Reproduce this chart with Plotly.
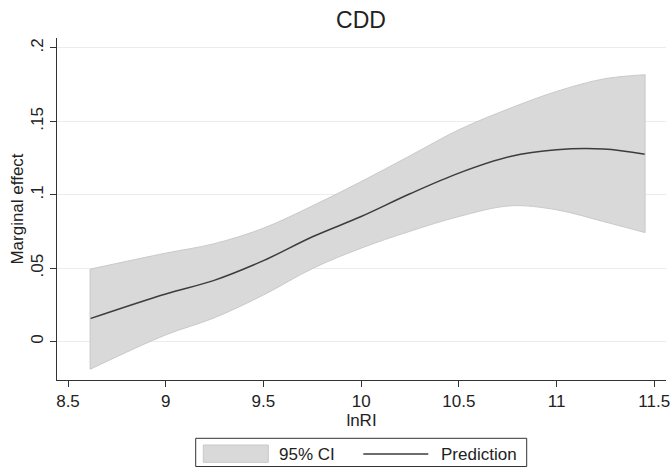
import plotly.graph_objects as go

# ---- data ----
lnRI = [8.613, 9.0, 9.244, 9.5, 9.754, 10.0, 10.25, 10.5, 10.763, 11.0, 11.24, 11.453]
upper = [0.0494, 0.0603, 0.0666, 0.0773, 0.0927, 0.109, 0.1266, 0.1443, 0.159, 0.1704, 0.1789, 0.1818]
pred = [0.0157, 0.0325, 0.0416, 0.0552, 0.0716, 0.0852, 0.1007, 0.1148, 0.1261, 0.1307, 0.1312, 0.1277]
lower = [-0.0188, 0.0046, 0.016, 0.0318, 0.05, 0.0637, 0.0752, 0.0852, 0.0925, 0.0898, 0.0818, 0.0743]

x_ticks = [8.5, 9, 9.5, 10, 10.5, 11, 11.5]
x_ticklabels = ["8.5", "9", "9.5", "10", "10.5", "11", "11.5"]
y_ticks = [0, 0.05, 0.1, 0.15, 0.2]
y_ticklabels = ["0", ".05", ".1", ".15", ".2"]

FONT = "Liberation Sans, Arial, sans-serif"
FS = 17
BAND = "#d9d9d9"
BAND_EDGE = "#c9c9c9"
LINE = "#3c3c3c"

fig = go.Figure()
fig.add_trace(go.Scatter(x=lnRI, y=upper, mode="lines", line=dict(color=BAND_EDGE, width=1, shape="spline"),
                         showlegend=False, hoverinfo="skip"))
fig.add_trace(go.Scatter(x=lnRI, y=lower, mode="lines", line=dict(color=BAND_EDGE, width=1, shape="spline"),
                         fill="tonexty", fillcolor=BAND, name="95% CI", showlegend=False))
fig.add_trace(go.Scatter(x=lnRI, y=pred, mode="lines", line=dict(color=LINE, width=1.5, shape="spline"),
                         name="Prediction", showlegend=False))

# vertical band edges at ends
for i in (0, -1):
    fig.add_trace(go.Scatter(x=[lnRI[i], lnRI[i]], y=[lower[i], upper[i]], mode="lines",
                             line=dict(color=BAND_EDGE, width=1), showlegend=False, hoverinfo="skip"))

fig.update_layout(
    width=671, height=468,
    margin=dict(l=57, r=5, t=38, b=88, autoexpand=False),
    paper_bgcolor="white", plot_bgcolor="white",
    font=dict(family=FONT, size=FS, color="#222"),
    title=dict(text="CDD", x=0.538, xanchor="center", y=0.957, yanchor="middle",
               font=dict(size=23, family=FONT, color="#222")),
    showlegend=False,
)
fig.update_xaxes(
    range=[8.4437, 11.56], tickvals=x_ticks, ticktext=x_ticklabels, automargin=False,
    showline=True, linecolor="#333", linewidth=1, ticks="outside", ticklen=6, tickcolor="#333",
    showgrid=False, zeroline=False, tickfont=dict(size=FS),
    title=dict(text="lnRI", standoff=1, font=dict(size=FS)),
)
fig.update_yaxes(
    range=[-0.0261, 0.2068], tickvals=y_ticks, ticktext=y_ticklabels, tickangle=-90, automargin=False,
    showline=True, linecolor="#333", linewidth=1, ticks="outside", ticklen=6, tickcolor="#333",
    showgrid=True, gridcolor="#ececec", gridwidth=1, zeroline=False, tickfont=dict(size=FS),
    title=dict(text="Marginal effect", standoff=0, font=dict(size=FS)),
)

# legend drawn manually (Stata style boxed legend)
def px2x(px):
    return (px - 57) / 609.0

def py2y(py):
    return (380 - py) / 342.0

fig.add_shape(type="rect", xref="paper", yref="paper", x0=px2x(195.7), x1=px2x(526.7),
              y0=py2y(438.3), y1=py2y(466.5), line=dict(color="#333", width=1), fillcolor="white")
fig.add_shape(type="rect", xref="paper", yref="paper", x0=px2x(203.3), x1=px2x(268.3),
              y0=py2y(445), y1=py2y(462.3), line=dict(color=BAND_EDGE, width=1), fillcolor=BAND)
fig.add_shape(type="line", xref="paper", yref="paper", x0=px2x(363.3), x1=px2x(428.3),
              y0=py2y(454), y1=py2y(454), line=dict(color=LINE, width=1.5))
fig.add_annotation(xref="paper", yref="paper", x=px2x(277), y=py2y(454), text="95% CI", showarrow=False,
                   xanchor="left", yanchor="middle", font=dict(size=FS, family=FONT, color="#222"))
fig.add_annotation(xref="paper", yref="paper", x=px2x(439), y=py2y(454), text="Prediction", showarrow=False,
                   xanchor="left", yanchor="middle", font=dict(size=FS, family=FONT, color="#222"))

fig.write_html("out.html", config={"displayModeBar": False},
               post_script="document.body.style.margin='0';document.body.style.overflow='hidden';")
